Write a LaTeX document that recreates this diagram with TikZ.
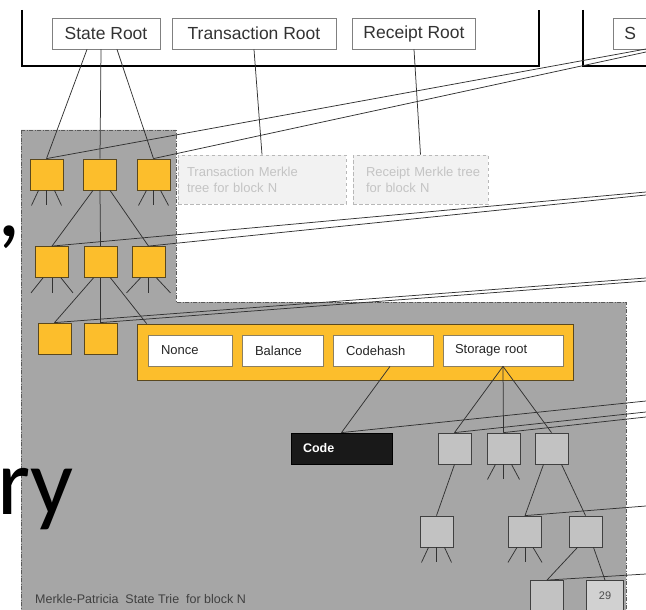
\documentclass[tikz,border=0pt]{standalone}
\usepackage{fontspec}
\setmainfont{Liberation Sans}
\newfontfamily\bigfont{Carlito}
\definecolor{ylw}{RGB}{252,190,44}
\definecolor{ylwb}{RGB}{90,72,30}
\definecolor{rgn}{RGB}{166,166,166}
\definecolor{gbx}{RGB}{194,194,194}
\definecolor{lnc}{RGB}{50,50,50}
\definecolor{lite}{RGB}{242,242,242}
\definecolor{litet}{RGB}{196,196,196}
\begin{document}
\begin{tikzpicture}[x=1pt,y=-1pt,
  topbox/.style={draw=black!50, fill=white, line width=0.8pt, minimum height=31pt, inner sep=0pt, font=\fontsize{17.5}{17.5}\selectfont, text=black!80},
  ybox/.style={draw=ylwb, fill=ylw, line width=0.8pt, minimum width=33pt, minimum height=31pt, inner sep=0pt},
  gbox/.style={draw=black!75, fill=gbx, line width=0.8pt, minimum width=33pt, minimum height=31pt, inner sep=0pt},
  field/.style={draw=ylwb!70, fill=white, line width=0.8pt, minimum height=31pt, inner xsep=13pt, align=left, font=\fontsize{13}{13}\selectfont, text=black!85},
  litebox/.style={draw=black!28, fill=lite, dash pattern=on 3.5pt off 2.5pt, line width=0.8pt, minimum height=49pt, align=left, font=\fontsize{13}{16}\selectfont, text=litet},
  conn/.style={draw=lnc, line width=0.75pt},
  heavy/.style={draw=black, line width=2.8pt},
  region/.style={draw=black!65, fill=rgn, line width=0.8pt, dash pattern=on 4pt off 1.5pt on 1pt off 1.5pt}
]
\useasboundingbox (0,0) rectangle (646,610);
\clip (0,0) rectangle (646,610);

% gray region
\path[region] (21,130) -- (176,130) -- (176,302) -- (626,302) -- (626,615) -- (21,615) -- cycle;

% big slide text fragments
\node[anchor=base west, font=\bigfont\fontsize{95}{95}\selectfont, inner sep=0pt] (ry) at (-3,514) {ry};
\node[anchor=base west, font=\bigfont\fontsize{95}{95}\selectfont, inner sep=0pt] (cm) at (-3,236) {,};

% top block frames
\draw[heavy] (22,10) -- (22,66) -- (539,66) -- (539,10);
\draw[heavy] (583,10) -- (583,66) -- (660,66);

% top boxes
\node[topbox, minimum width=108pt] (sr) at (106,33.5) {State Root};
\node[topbox, minimum width=164pt] (tr) at (254,33.5) {Transaction Root};
\node[topbox, minimum width=123pt] (rr) at (414,33.5) {Receipt Root};
\node[topbox, anchor=west, minimum width=60pt, inner xsep=11pt, text width=38pt, align=left] (sn) at (613,33.5) {S};

% dashed light boxes
\node[litebox, minimum width=168pt, inner xsep=9pt, text width=150pt] (tm) at (262,179.5) {Transaction Merkle\\tree for block N};
\node[litebox, minimum width=135pt, inner xsep=7pt, text width=121pt] (rm) at (420.5,179.5) {\hspace*{6pt}Receipt Merkle tree\\\hspace*{6pt}for block N};
\draw[conn] (tr.south) -- (tm.north);
\draw[conn] (rr.south) -- (rm.north);

% yellow state trie nodes
\node[ybox] (y11) at (46.5,174.5) {};
\node[ybox] (y12) at (100,174.5) {};
\node[ybox] (y13) at (153.5,174.5) {};
\node[ybox] (y21) at (52,262) {};
\node[ybox] (y22) at (100.5,262) {};
\node[ybox] (y23) at (148.5,262) {};
\node[ybox] (y31) at (54.5,338.5) {};
\node[ybox] (y32) at (100.5,338.5) {};

% account box
\node[draw=ylwb, fill=ylw, line width=0.8pt, minimum width=436pt, minimum height=56pt, inner sep=0pt] (acc) at (355,352) {};
\node[field, minimum width=84pt, text width=58pt] (nonce) at (190,350.5) {Nonce};
\node[field, minimum width=81pt, text width=55pt] (bal) at (282.5,350.5) {Balance};
\node[field, minimum width=100pt, text width=74pt] (ch) at (383,350.5) {Codehash};
\node[field, minimum width=120pt, inner xsep=12pt, text width=96pt] (st) at (503,350.5) {Storage root};

% code
\node[fill=black!90, draw=black, line width=0.8pt, minimum width=101pt, minimum height=31pt, inner xsep=12pt, text width=77pt, align=left, text=white, font=\bfseries\fontsize{12.5}{12.5}\selectfont] (code) at (341.5,448.5) {Code};

% storage trie
\node[gbox] (ga) at (454.5,448.5) {};
\node[gbox] (gb) at (503.5,448.5) {};
\node[gbox] (gc) at (551.5,448.5) {};
\node[gbox] (gd) at (436.5,531.5) {};
\node[gbox] (ge) at (525,531.5) {};
\node[gbox] (gf) at (585.5,531.5) {};
\node[gbox] (gg) at (547,596) {};
\node[gbox, fill=black!18, minimum width=37pt, font=\fontsize{11}{11}\selectfont, text=black!70] (gh) at (605,596) {29};

% state root edges
\draw[conn] ([xshift=-19pt]sr.south) -- (y11.north);
\draw[conn] ([xshift=-5pt]sr.south) -- (y12.north);
\draw[conn] ([xshift=11pt]sr.south) -- (y13.north);

% trie edges
\draw[conn] ([xshift=-7pt]y12.south) -- (y21.north);
\draw[conn] (y12.south) -- (y22.north);
\draw[conn] ([xshift=10pt]y12.south) -- (y23.north);
\draw[conn] ([xshift=-7pt]y22.south) -- (y31.north);
\draw[conn] (y22.south) -- (y32.north);
\draw[conn] ([xshift=10pt]y22.south) -- ([xshift=10pt]acc.north west);

% fans
\foreach \n/\s/\d in {y11/8/7, y13/7/8, y21/9/12, y23/8/14, gb/8/8, gd/8/7, ge/8/9} {
  \draw[conn] ([xshift=-\s pt]\n.south) -- ++(-\d,15);
  \draw[conn] (\n.south) -- ++(0,15);
  \draw[conn] ([xshift=\s pt]\n.south) -- ++(\d,15);
}

% account edges
\draw[conn] ([xshift=7pt]ch.south) -- (code.north);
\draw[conn] (st.south) -- (ga.north);
\draw[conn] (st.south) -- (gb.north);
\draw[conn] (st.south) -- (gc.north);
\draw[conn] (ga.south) -- (gd.north);
\draw[conn] ([xshift=-8pt]gc.south) -- (ge.north);
\draw[conn] ([xshift=10pt]gc.south) -- (gf.north);
\draw[conn] ([xshift=-8pt]gf.south) -- (gg.north);
\draw[conn] ([xshift=8pt]gf.south) -- (gh.north);

% long lines to the next block (off the right edge)
\coordinate (e1) at (646,49);
\coordinate (e2) at (646,52);
\coordinate (e3) at (646,192);
\coordinate (e4) at (646,195);
\coordinate (e5) at (646,278);
\coordinate (e6) at (646,281);
\coordinate (e7) at (646,401);
\coordinate (e8) at (646,412);
\coordinate (e9) at (646,417);
\coordinate (e10) at (646,506);
\coordinate (e11) at (646,574);
\draw[conn] (y11.north) -- (e1);
\draw[conn] (y13.north) -- (e2);
\draw[conn] (y21.north) -- (e3);
\draw[conn] (y23.north) -- (e4);
\draw[conn] (y31.north) -- (e5);
\draw[conn] (y32.north) -- (e6);
\draw[conn] (code.north) -- (e7);
\draw[conn] (ga.north) -- (e8);
\draw[conn] (gb.north) -- (e9);
\draw[conn] (ge.north) -- (e10);
\draw[conn] (gg.north) -- (e11);

% caption
\node[anchor=base west, inner sep=0pt, font=\fontsize{12.5}{12.5}\selectfont, text=black!75] (cap) at (35,603) {Merkle-Patricia\ \ State\ Trie\ \ for block N};
\end{tikzpicture}
\end{document}
